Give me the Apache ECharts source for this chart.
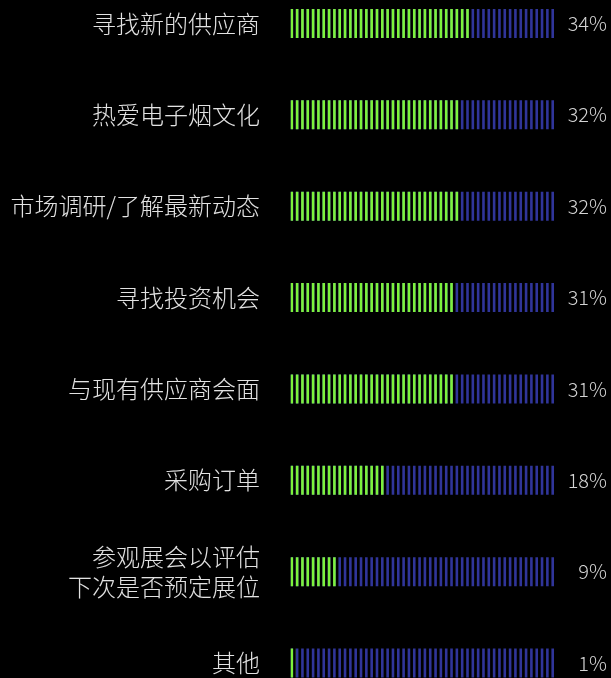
<!DOCTYPE html>
<html>
<head>
<meta charset="utf-8">
<script src="https://cdn.jsdelivr.net/npm/echarts@6/dist/echarts.min.js"></script>
<style>
  html, body { margin: 0; padding: 0; background: #000; }
  #chart { width: 611px; height: 678px; }
</style>
</head>
<body>
<div id="chart"></div>
<script>
var categories = ['寻找新的供应商', '热爱电子烟文化', '市场调研/了解最新动态', '寻找投资机会', '与现有供应商会面', '采购订单', '参观展会以评估\n下次是否预定展位', '其他'];
var values = [34, 32, 32, 31, 31, 18, 9, 1];
var axisMax = 50;
var fullValues = categories.map(function () { return axisMax; });
var percentLabels = values.map(function (v) { return v + '%'; });

var chart = echarts.init(document.getElementById('chart'));

var barStyle = {
	type: 'pictorialBar',
	symbol: 'rect',
	symbolRepeat: 50,
	symbolSize: [2.6, 29],
	symbolClip: true,
	symbolBoundingData: axisMax,
	barCategoryGap: 0
};

var option = {
	backgroundColor: '#000',
	animation: false,
	grid: { left: 290.5, right: 57, top: 23.5, bottom: 10.5 },
	xAxis: {
		type: 'value',
		min: 0,
		max: axisMax,
		show: false
	},
	yAxis: [
		{
			type: 'category',
			inverse: true,
			boundaryGap: false,
			data: categories,
			axisLine: { show: false },
			axisTick: { show: false },
			splitLine: { show: false },
			axisLabel: {
				color: '#e2e2e2',
				fontSize: 24,
				fontWeight: 300,
				lineHeight: 30,
				margin: 30.5,
				fontFamily: "'Noto Sans CJK SC', sans-serif"
			}
		},
		{
			type: 'category',
			inverse: true,
			boundaryGap: false,
			position: 'right',
			data: percentLabels,
			axisLine: { show: false },
			axisTick: { show: false },
			splitLine: { show: false },
			axisLabel: {
				color: '#d4d4d4',
				fontSize: 20,
				fontWeight: 300,
				align: 'right',
				margin: 53,
				fontFamily: "'Noto Sans CJK SC', sans-serif"
			}
		}
	],
	series: [
		Object.assign({}, barStyle, {
			name: 'bg',
			z: 1,
			itemStyle: { color: '#30359a' },
			data: fullValues
		}),
		Object.assign({}, barStyle, {
			name: 'value',
			z: 2,
			barGap: '-100%',
			itemStyle: { color: '#7df23c' },
			data: values
		})
	]
};

chart.setOption(option);
</script>
</body>
</html>
